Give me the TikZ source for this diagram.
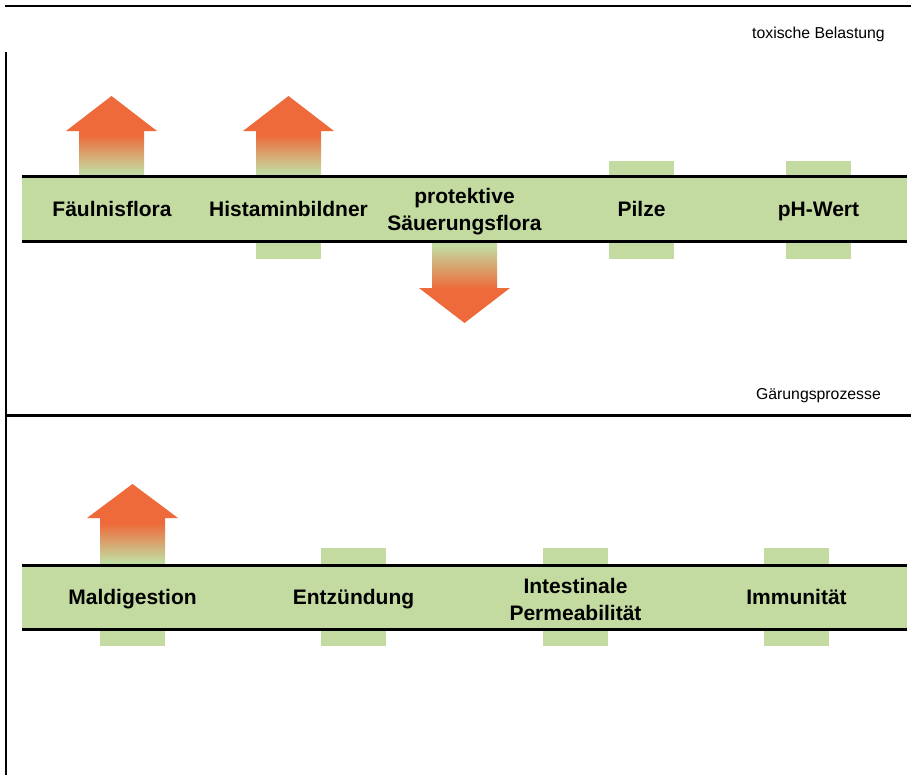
\documentclass[tikz,border=0pt]{standalone}
\usepackage{fontspec}
\setmainfont{Liberation Sans}
\definecolor{sgreen}{HTML}{C3DBA1}
\definecolor{sorange}{HTML}{EE6A3A}
\pgfdeclareverticalshading{upfade}{100bp}{color(0bp)=(sgreen); color(28bp)=(sgreen); color(51bp)=(sorange); color(100bp)=(sorange)}
\pgfdeclareverticalshading{downfade}{100bp}{color(0bp)=(sorange); color(46bp)=(sorange); color(72bp)=(sgreen); color(100bp)=(sgreen)}
\newcommand\myarrow[5]{% shading, cx, tip y, head base y, end y
  \shade[shading=#1] ({#2-32.5},#5) -- ({#2-32.5},#4) -- ({#2-45.5},#4) -- (#2,#3) -- ({#2+45.5},#4) -- ({#2+32.5},#4) -- ({#2+32.5},#5) -- cycle;}
\begin{document}
\begin{tikzpicture}[x=1pt,y=-1pt,
  lbltwo/.style={font=\fontsize{21}{27}\selectfont\bfseries, align=center, inner sep=0pt},
  lbl/.style={lbltwo, text height=15pt, text depth=4.5pt},
  small/.style={font=\fontsize{15.8}{18}\selectfont, inner sep=0pt, anchor=east},
  frame/.style={line width=2.5pt},
  band/.style={line width=3pt},
  tab/.style={fill=sgreen}]
\useasboundingbox (0,0) rectangle (911,776);
% frame lines
\draw[frame] (5,6.2) -- (911,6.2);
\draw[frame] (6,52) -- (6,775);
\draw[band] (6,415) -- (911,415);
\node[small] (tox) at (885,34) {toxische Belastung};
\node[small] (gaer) at (881,396) {Gärungsprozesse};
% ---- upper band ----
\myarrow{upfade}{111.5}{96}{131}{177}
\myarrow{upfade}{288.5}{96}{131}{177}
\myarrow{downfade}{464.5}{323}{288}{241}
\fill[tab] (256,241) rectangle (321,259);
\fill[tab] (609,161) rectangle (674,177);
\fill[tab] (609,241) rectangle (674,259);
\fill[tab] (786,161) rectangle (851,177);
\fill[tab] (786,241) rectangle (851,259);
\fill[sgreen] (21.5,177) rectangle (907,241);
\draw[band] (21.5,176.5) -- (907,176.5);
\draw[band] (21.5,241.5) -- (907,241.5);
\node[lbl] (f1) at (112,211) {Fäulnisflora};
\node[lbl] (f2) at (288.5,211) {Histaminbildner};
\node[lbltwo] (f3) at (464.5,211.5) {protektive\\Säuerungsflora};
\node[lbl] (f4) at (641.5,211) {Pilze};
\node[lbl] (f5) at (818.5,211) {pH-Wert};
% ---- lower band ----
\myarrow{upfade}{132.5}{484}{518}{566}
\fill[tab] (100,628) rectangle (165,646);
\fill[tab] (321,548) rectangle (386,566);
\fill[tab] (321,628) rectangle (386,646);
\fill[tab] (543,548) rectangle (608,566);
\fill[tab] (543,628) rectangle (608,646);
\fill[tab] (764,548) rectangle (829,566);
\fill[tab] (764,628) rectangle (829,646);
\fill[sgreen] (21.5,566) rectangle (907,628);
\draw[band] (21.5,565) -- (907,565);
\draw[band] (21.5,629) -- (907,629);
\node[lbl] (g1) at (132.5,599) {Maldigestion};
\node[lbl] (g2) at (353.5,599) {Entzündung};
\node[lbltwo] (g3) at (575.5,599.5) {Intestinale\\Permeabilität};
\node[lbl] (g4) at (796.5,599) {Immunität};
\end{tikzpicture}
\end{document}
